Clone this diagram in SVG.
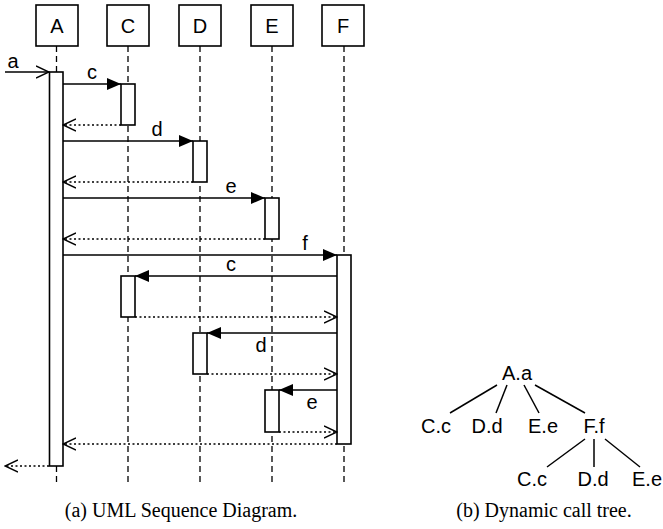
<svg xmlns="http://www.w3.org/2000/svg" width="663" height="529" viewBox="0 0 663 529">
<style>
.box{fill:#fff;stroke:#000;stroke-width:1.6}
.life{stroke:#000;stroke-width:1.3;stroke-dasharray:6,4;fill:none}
.act{fill:#fff;stroke:#000;stroke-width:1.6}
.call{stroke:#000;stroke-width:1.5;fill:none}
.ret{stroke:#000;stroke-width:1.4;stroke-dasharray:2,2.5;fill:none}
.open{stroke:#000;stroke-width:1.4;fill:none}
.t{font-family:"Liberation Sans",Arial,sans-serif;font-size:20px;fill:#000}
.cap{font-family:"Liberation Serif","Times New Roman",serif;font-size:20px;fill:#000}
.edge{stroke:#000;stroke-width:1.5}
</style>
<defs>
<marker id="fill" viewBox="0 0 14 12" refX="14" refY="6" markerWidth="14" markerHeight="12" markerUnits="userSpaceOnUse" orient="auto"><path d="M0,0 L14,6 L0,12 Z" fill="#000"/></marker>
<marker id="opn" viewBox="0 0 14 14" refX="13" refY="7" markerWidth="14" markerHeight="14" markerUnits="userSpaceOnUse" orient="auto"><path d="M0,1 L13,7 L0,13" fill="none" stroke="#000" stroke-width="1.4"/></marker>
</defs>
<g id="lifelines">
<line class="life" x1="56.5" y1="46" x2="56.5" y2="483"/>
<line class="life" x1="128" y1="46" x2="128" y2="483"/>
<line class="life" x1="200" y1="46" x2="200" y2="483"/>
<line class="life" x1="272" y1="46" x2="272" y2="483"/>
<line class="life" x1="344" y1="46" x2="344" y2="483"/>
</g>
<g id="A"><rect class="box" x="36" y="5" width="42" height="41"/><text class="t" x="57" y="33" text-anchor="middle">A</text></g>
<g id="C"><rect class="box" x="107" y="5" width="42" height="41"/><text class="t" x="128" y="33" text-anchor="middle">C</text></g>
<g id="D"><rect class="box" x="179" y="5" width="42" height="41"/><text class="t" x="200" y="33" text-anchor="middle">D</text></g>
<g id="E"><rect class="box" x="251" y="5" width="42" height="41"/><text class="t" x="272" y="33" text-anchor="middle">E</text></g>
<g id="F"><rect class="box" x="322" y="5" width="42" height="41"/><text class="t" x="343" y="33" text-anchor="middle">F</text></g>
<g id="activations">
<rect class="act" x="49.5" y="72" width="13.5" height="394"/>
<rect class="act" x="121" y="84" width="14" height="41"/>
<rect class="act" x="193" y="141" width="14" height="41"/>
<rect class="act" x="265" y="198" width="14" height="41"/>
<rect class="act" x="337" y="255" width="14" height="189"/>
<rect class="act" x="121" y="276" width="14" height="41"/>
<rect class="act" x="193" y="333" width="14" height="41"/>
<rect class="act" x="265" y="390" width="14" height="42"/>
</g>
<g id="connectors">
<line class="open" x1="5" y1="72" x2="49" y2="72" marker-end="url(#opn)"/>
<line class="call" x1="63" y1="84" x2="121" y2="84" marker-end="url(#fill)"/>
<line class="ret" x1="121" y1="125" x2="63" y2="125" marker-end="url(#opn)"/>
<line class="call" x1="63" y1="141" x2="193" y2="141" marker-end="url(#fill)"/>
<line class="ret" x1="193" y1="182" x2="63" y2="182" marker-end="url(#opn)"/>
<line class="call" x1="63" y1="198" x2="265" y2="198" marker-end="url(#fill)"/>
<line class="ret" x1="265" y1="239" x2="63" y2="239" marker-end="url(#opn)"/>
<line class="call" x1="63" y1="255" x2="337" y2="255" marker-end="url(#fill)"/>
<line class="call" x1="337" y1="276" x2="135" y2="276" marker-end="url(#fill)"/>
<line class="ret" x1="135" y1="317" x2="337" y2="317" marker-end="url(#opn)"/>
<line class="call" x1="337" y1="333" x2="207" y2="333" marker-end="url(#fill)"/>
<line class="ret" x1="207" y1="374" x2="337" y2="374" marker-end="url(#opn)"/>
<line class="call" x1="337" y1="390" x2="279" y2="390" marker-end="url(#fill)"/>
<line class="ret" x1="279" y1="432" x2="337" y2="432" marker-end="url(#opn)"/>
<line class="ret" x1="337" y1="444" x2="63" y2="444" marker-end="url(#opn)"/>
<line class="ret" x1="49" y1="466" x2="5" y2="466" marker-end="url(#opn)"/>
</g>
<g id="labels">
<text class="t" x="13" y="68" text-anchor="middle">a</text>
<text class="t" x="92" y="79" text-anchor="middle">c</text>
<text class="t" x="157" y="136" text-anchor="middle">d</text>
<text class="t" x="231" y="193" text-anchor="middle">e</text>
<text class="t" x="305" y="250" text-anchor="middle">f</text>
<text class="t" x="231" y="271" text-anchor="middle">c</text>
<text class="t" x="261" y="352" text-anchor="middle">d</text>
<text class="t" x="312" y="409" text-anchor="middle">e</text>
</g>
<g id="tree">
<line class="edge" x1="497" y1="385" x2="450" y2="413"/>
<line class="edge" x1="507" y1="385" x2="496" y2="413"/>
<line class="edge" x1="524" y1="385" x2="539" y2="413"/>
<line class="edge" x1="535" y1="385" x2="585" y2="413"/>
<line class="edge" x1="585" y1="439" x2="547" y2="467"/>
<line class="edge" x1="594" y1="439" x2="594" y2="467"/>
<line class="edge" x1="605" y1="439" x2="640" y2="467"/>
<text class="t" x="517" y="380" text-anchor="middle">A.a</text>
<text class="t" x="436" y="433" text-anchor="middle">C.c</text>
<text class="t" x="487" y="433" text-anchor="middle">D.d</text>
<text class="t" x="543" y="433" text-anchor="middle">E.e</text>
<text class="t" x="594" y="433" text-anchor="middle">F.f</text>
<text class="t" x="532" y="486" text-anchor="middle">C.c</text>
<text class="t" x="593" y="486" text-anchor="middle">D.d</text>
<text class="t" x="647" y="486" text-anchor="middle">E.e</text>
</g>
<text class="cap" x="181" y="517" text-anchor="middle">(a) UML Sequence Diagram.</text>
<text class="cap" x="544" y="517" text-anchor="middle">(b) Dynamic call tree.</text>
</svg>
